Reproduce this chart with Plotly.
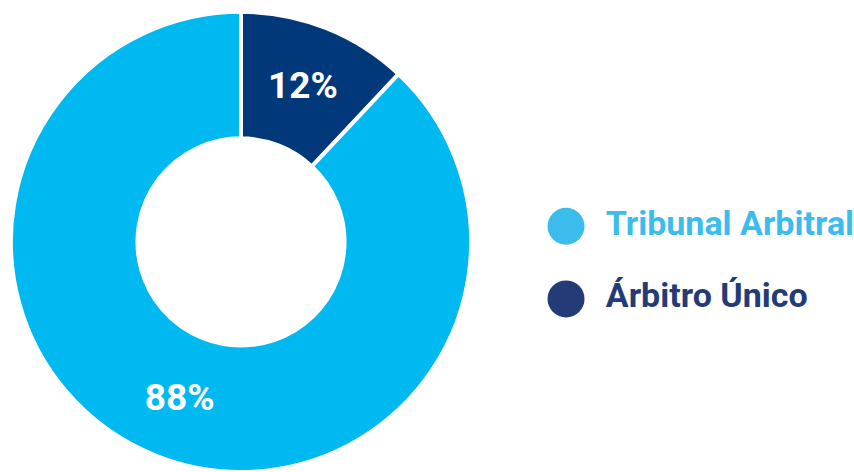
import plotly.graph_objects as go

labels = ["Tribunal Arbitral", "Árbitro Único"]
values = [88, 12]
slice_colors = ["#00B9F0", "#00387A"]
legend_colors = ["#3BBCEC", "#233C78"]
legend_rows = [1, 0]

fig = go.Figure()

fig.add_trace(go.Pie(
    labels=labels[::-1],
    values=values[::-1],
    hole=0.45,
    sort=False,
    direction="clockwise",
    rotation=0,
    marker=dict(colors=slice_colors[::-1], line=dict(color="white", width=4)),
    textinfo="percent",
    texttemplate="%{percent:.0%}",
    textposition="inside",
    insidetextorientation="horizontal",
    textfont=dict(family="Roboto", size=37, color="white", weight="bold"),
    domain=dict(x=[0, 0.5644], y=[0, 0.975]),
    showlegend=False,
    hoverinfo="skip",
))

fig.add_trace(go.Scatter(
    x=[0] * len(labels), y=legend_rows,
    mode="markers",
    marker=dict(size=37, color=legend_colors, symbol="circle"),
    xaxis="x", yaxis="y", showlegend=False, hoverinfo="skip",
))

fig.add_trace(go.Scatter(
    x=[0.71] * len(labels), y=legend_rows,
    mode="text",
    text=labels,
    textposition="middle right",
    textfont=dict(family="Roboto", size=34, color=legend_colors, weight="bold"),
    xaxis="x", yaxis="y", showlegend=False, hoverinfo="skip",
))

fig.update_layout(
    width=854, height=472,
    margin=dict(l=0, r=0, t=0, b=0),
    paper_bgcolor="white", plot_bgcolor="rgba(0,0,0,0)",
    xaxis=dict(domain=[0.63, 1.0], range=[-0.5, 5.14], visible=False, fixedrange=True),
    yaxis=dict(domain=[0.2437, 0.6437], range=[-0.8, 1.8], visible=False, fixedrange=True),
    hovermode=False,
)

fig.write_html(
    "out.html",
    config={"displayModeBar": False},
    post_script="document.body.style.margin='0';document.body.style.overflow='hidden';",
)
